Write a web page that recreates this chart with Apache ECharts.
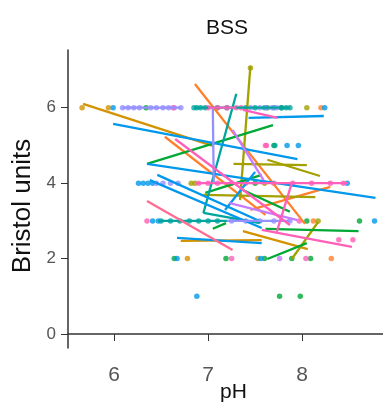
<!DOCTYPE html>
<html><head><meta charset="utf-8">
<script src="https://cdn.jsdelivr.net/npm/echarts@6/dist/echarts.min.js"></script>
<style>html,body{margin:0;padding:0;background:#fff}#c{width:383px;height:405px}</style>
</head><body><div id="c"></div>
<script>
// tick labels
const xTicks = [6, 7, 8];
const yTicks = [0, 2, 4, 6];

// points per subject colour: [pH, Bristol units]
const goldPts = [[5.66,6],[5.94,6],[6.78,2],[7.53,2]];
const orangePts = [[8.20,6],[8.12,3],[8.31,2]];
const olivePts = [[8.05,6],[6.82,4],[6.86,4],[7.6,4],[8.17,3],[7.45,7.05]];
const greenPts = [[6.34,6],[7.63,6],[7.78,6],[7.70,5],[7.5,4],[8.05,3],[8.61,3],[6.64,2],[7.19,2],[7.60,2],[7.89,2],[8.09,2],[7.76,1],[7.98,1]];
const tealPts = [[6.85,6],[6.88,6],[6.92,6],[6.97,6],[7.1,6],[7.2,6],[7.4,6],[7.5,6],[7.6,6],[7.7,6],[7.78,6],[7.83,6],[7.87,6],[7.71,5],[6.5,3],[6.6,3],[6.7,3],[6.8,3],[6.9,3],[7.0,3],[7.1,3]];
const bluePts = [[5.99,6],[8.24,6],[7.84,5],[7.96,5],[6.26,4],[6.31,4],[6.36,4],[6.41,4],[8.48,4],[6.41,3],[6.47,3],[8.77,3],[6.67,2],[7.56,2],[6.88,1]];
const lavenderPts = [[6.09,6],[6.15,6],[6.21,6],[6.27,6],[6.39,6],[6.45,6],[6.52,6],[6.58,6],[6.64,6],[6.71,6],[7.45,6],[7.55,6],[7.62,6],[7.68,6],[7.73,6],[6.45,4],[6.52,4],[6.6,4],[6.68,4],[7.25,3],[7.4,3],[7.55,3],[7.7,3],[7.87,3]];
const purplePts = [[7.76,2]];
const pinkPts = [[6.63,6],[7.0,6],[7.1,6],[7.2,6],[7.3,6],[7.35,6],[7.61,5],[7.62,5],[6.9,4],[7.0,4],[7.1,4],[7.25,4],[7.4,4],[7.7,4],[7.9,4],[8.1,4],[8.3,4],[8.44,4],[6.35,3],[7.97,3],[8.39,2.5],[8.54,2.5],[7.25,2],[8.04,2]];

// fitted lines per subject colour: [x1, y1, x2, y2]
const goldLines = [[5.67,6.10,7.05,4.99],[6.71,2.47,7.57,2.49],[7.37,2.73,8.06,2.25]];
const orangeLines = [[6.86,6.63,8.03,2.92],[6.54,5.23,7.61,3.16],[7.45,3.29,8.30,3.90]];
const oliveLines = [[7.45,7.11,7.34,3.55],[7.27,4.51,8.05,4.48],[7.63,4.62,8.19,4.19],[7.89,1.99,8.17,2.97],[6.95,3.69,8.14,3.63]];
const greenLines = [[6.35,4.51,7.69,5.54],[7.61,2.79,8.60,2.73],[7.63,1.99,8.05,2.41],[7.05,2.79,7.19,2.94],[7.37,3.82,7.87,3.24],[6.97,3.74,7.57,4.22]];
const tealLines = [[7.30,6.37,6.95,3.21],[6.95,3.21,7.55,2.94],[6.85,6,7.87,6],[6.47,3,7.2,3]];
const blueLines = [[5.99,5.57,7.95,4.64],[7.43,5.73,8.23,5.78],[6.35,4.51,8.78,3.61],[6.46,4.22,7.57,2.97],[6.38,4.08,7.57,2.81],[6.67,2.55,7.57,2.41],[7.18,3.29,7.50,4.30]];
const lavenderLines = [[7.05,6.0,7.06,4.0],[6.09,6,6.71,6],[7.2,3,7.87,3]];
const purpleLines = [[7.26,5.41,7.59,4.08],[7.23,3.47,7.95,3.02]];
const pinkLines = [[7.37,5.94,7.74,5.73],[6.87,4,8.48,4],[7.57,2.76,8.53,2.31],[6.65,5.17,7.87,2.89],[7.89,4.0,7.73,2.71],[7.0,6,7.3,6]];
const salmonLines = [[6.35,3.53,7.26,2.23]];

const groups = [
  ['#D39200', goldPts, goldLines],
  ['#FF7F2A', orangePts, orangeLines],
  ['#A3A000', olivePts, oliveLines],
  ['#00A835', greenPts, greenLines],
  ['#00A59E', tealPts, tealLines],
  ['#0098EC', bluePts, blueLines],
  ['#9590FF', lavenderPts, lavenderLines],
  ['#C77CFF', purplePts, purpleLines],
  ['#FF5FB8', pinkPts, pinkLines],
  ['#FF6C91', [], salmonLines]
];

const series = [];
groups.forEach(([col, pts, lines]) => {
  lines.forEach(l => series.push({
    type: 'line', data: [[l[0], l[1]], [l[2], l[3]]], showSymbol: false,
    lineStyle: {color: col, width: 2.3}, itemStyle: {color: col}, silent: true
  }));
  if (pts.length) series.push({
    type: 'scatter', data: pts, symbolSize: 5.5, itemStyle: {color: col}, silent: true
  });
});

const font = "'Liberation Sans', Arial, sans-serif";
const chart = echarts.init(document.getElementById('c'));
chart.setOption({
  animation: false,
  backgroundColor: '#fff',
  title: {text: 'BSS', left: 222, top: 13, textAlign: 'center',
    textStyle: {fontFamily: font, fontWeight: 'normal', fontSize: 21, color: '#111'}},
  grid: {left: 68, right: 0, top: 50, bottom: 57, containLabel: false, outerBoundsMode: 'none'},
  xAxis: {
    type: 'value', min: 5.51, max: 8.86,
    name: 'pH', nameLocation: 'middle', nameGap: 34, nameMoveOverlap: false,
    nameTextStyle: {fontFamily: font, fontSize: 21, color: '#111', padding: [0, 0, 0, 16]},
    axisLine: {lineStyle: {color: '#333', width: 1.5}},
    axisTick: {show: true, length: 7, lineStyle: {color: '#333'}, customValues: xTicks},
    axisLabel: {fontFamily: font, fontSize: 21, color: '#555', margin: 17, customValues: xTicks},
    splitLine: {show: false}
  },
  yAxis: {
    type: 'value', min: -0.37, max: 7.53,
    name: 'Bristol units', nameLocation: 'middle', nameGap: 32, nameMoveOverlap: false,
    nameTextStyle: {fontFamily: font, fontSize: 26, color: '#111', padding: [0, 14, 0, 0]},
    axisLine: {show: true, lineStyle: {color: '#333', width: 1.5}},
    axisTick: {show: true, length: 7, lineStyle: {color: '#333'}, customValues: yTicks},
    axisLabel: {fontFamily: font, fontSize: 17, color: '#555', margin: 12, customValues: yTicks},
    splitLine: {show: false}
  },
  series: series
});
</script>
</body></html>
